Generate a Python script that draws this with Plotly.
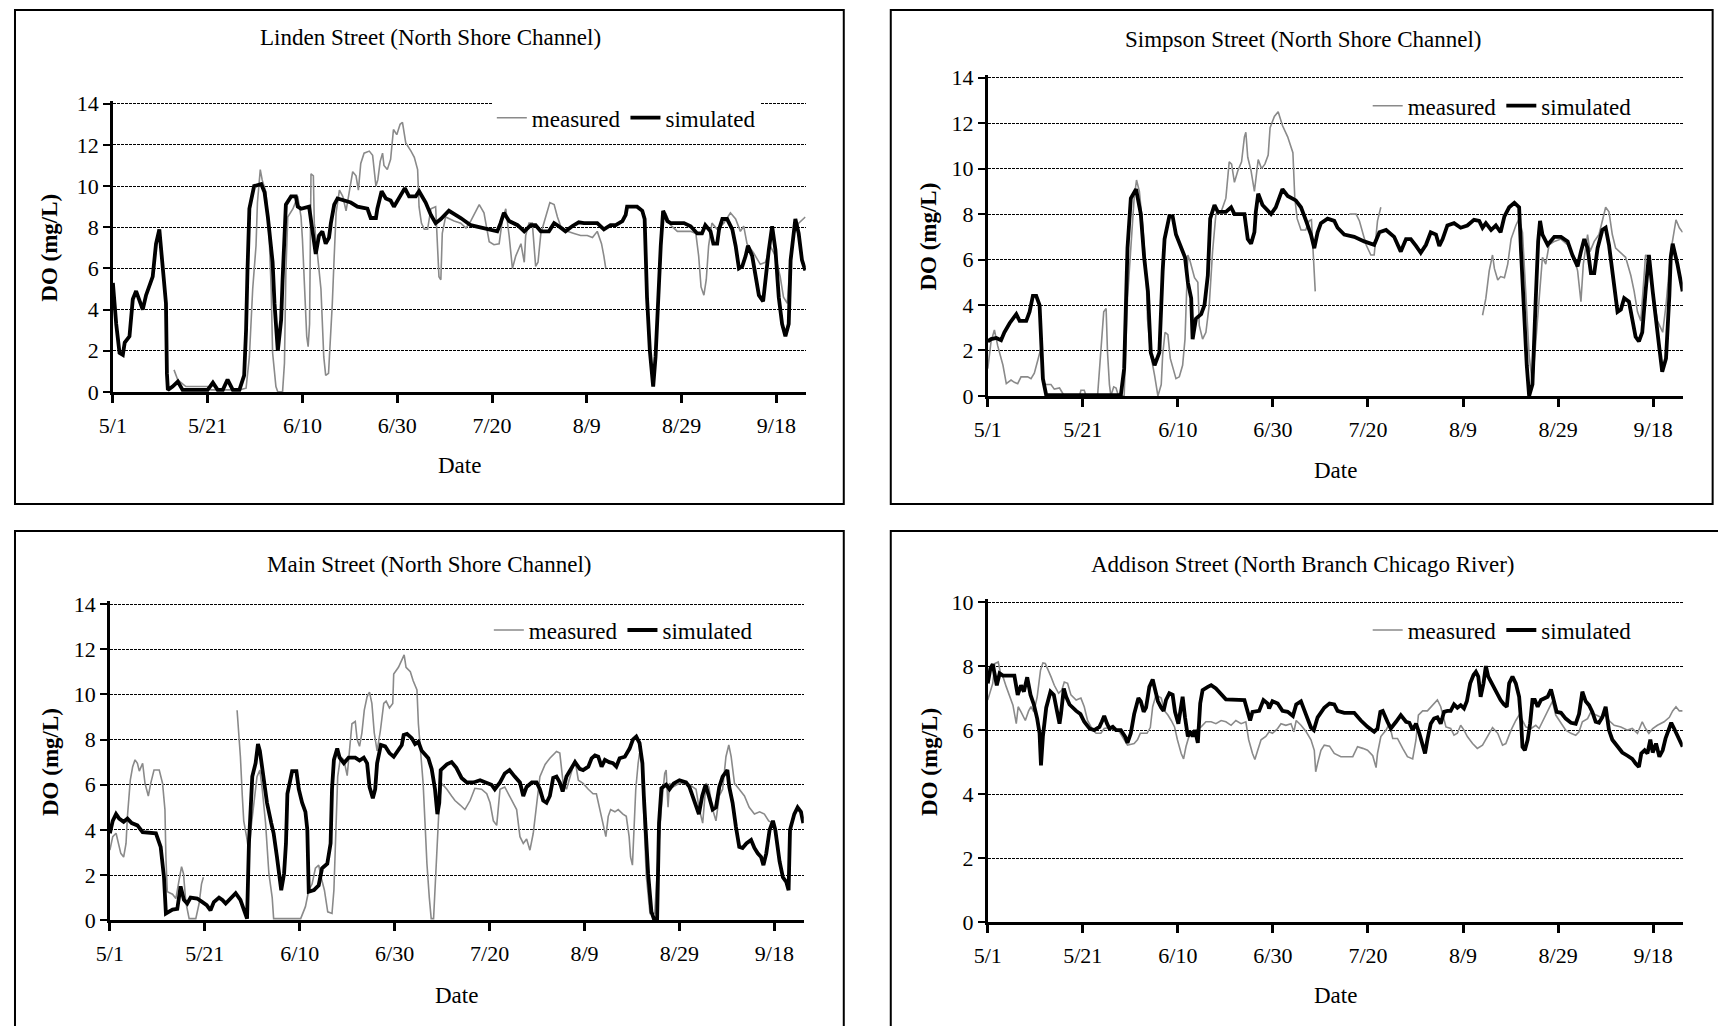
import plotly.graph_objects as go

W, H = 1718, 1026
FONT = "Liberation Serif, Times New Roman, serif"

# x axis: days since May 1
tick_days = [0, 20, 40, 60, 80, 100, 120, 140]
tick_labels = ["5/1", "5/21", "6/10", "6/30", "7/20", "8/9", "8/29", "9/18"]

# ---------------- Linden Street ----------------
linden_sim_day = [
    0, 0.7, 1.4, 2.1, 2.5, 3.5, 4.2, 4.9, 6.3, 7.0,
    8.4, 9.1, 9.8, 10.5, 11.2, 11.4, 11.6, 12.6, 13.7, 14.7,
    20.0, 21.1, 22.1, 23.2, 24.2, 25.3, 26.7, 27.7, 28.1, 28.4,
    28.8, 29.8, 31.3, 32.0, 32.7, 33.7, 34.1, 34.8, 35.5, 35.8,
    36.2, 36.5, 37.6, 38.6, 39.0, 39.7, 41.4, 42.1, 42.8, 43.5,
    44.2, 44.9, 45.6, 46.0, 46.7, 47.4, 49.2, 50.2, 51.6, 53.7,
    54.4, 55.5, 55.8, 56.7, 57.6, 58.6, 59.3, 60.4, 61.6, 62.5,
    63.9, 64.6, 66.0, 67.1, 68.1, 69.2, 70.9, 72.3, 73.4, 75.5,
    78.3, 81.1, 81.8, 82.5, 83.6, 85.4, 86.8, 88.2, 89.2, 90.3,
    92.0, 93.1, 94.1, 95.5, 96.9, 98.3, 99.4, 102.2, 103.6, 105.0,
    106.1, 107.5, 108.2, 108.5, 110.6, 111.7, 112.2, 112.4, 112.7, 113.3,
    114.0, 114.5, 115.0, 115.6, 116.1, 117.0, 117.7, 120.5, 121.9, 123.3,
    124.3, 125.0, 126.1, 126.7, 127.5, 127.9, 128.6, 129.6, 130.7, 131.4,
    132.1, 132.8, 133.5, 134.0, 134.9, 135.6, 136.3, 137.2, 137.7, 138.4,
    139.1, 139.8, 140.5, 141.2, 141.9, 142.6, 143.0, 143.7, 144.0, 144.7,
    145.4, 146.1,
]
linden_sim_do = [
    5.3, 3.3, 1.9, 1.8, 2.4, 2.7, 4.5, 4.9, 4.0, 4.7,
    5.6, 7.2, 7.9, 6.3, 4.3, 0.9, 0.1, 0.26, 0.5, 0.1,
    0.1, 0.45, 0.1, 0.1, 0.6, 0.1, 0.1, 0.8, 3.0, 5.9,
    8.9, 10.0, 10.1, 9.7, 8.5, 6.3, 4.3, 2.0, 3.5, 5.4,
    7.7, 9.1, 9.5, 9.5, 9.0, 8.9, 9.0, 7.9, 6.7, 7.6,
    7.8, 7.2, 7.5, 8.2, 9.1, 9.4, 9.3, 9.2, 9.0, 8.9,
    8.45, 8.45, 8.9, 9.75, 9.4, 9.3, 9.0, 9.4, 9.9, 9.5,
    9.5, 9.75, 9.2, 8.6, 8.2, 8.4, 8.8, 8.6, 8.45, 8.1,
    7.96, 7.8, 8.2, 8.7, 8.3, 8.1, 7.8, 8.1, 8.1, 7.8,
    7.8, 8.2, 8.05, 7.8, 8.05, 8.24, 8.2, 8.2, 7.9, 8.1,
    8.1, 8.3, 8.6, 9.0, 9.0, 8.8, 8.4, 6.6, 4.6, 2.0,
    0.26, 1.7, 4.6, 7.1, 8.8, 8.3, 8.2, 8.2, 8.05, 7.7,
    7.7, 8.1, 7.8, 7.2, 7.2, 7.9, 8.4, 8.4, 7.9, 7.1,
    6.0, 6.1, 6.6, 7.1, 6.6, 5.6, 4.7, 4.4, 5.6, 6.9,
    8.05, 6.9, 4.6, 3.3, 2.7, 3.3, 6.4, 7.9, 8.4, 7.7,
    6.4, 5.9,
]
linden_meas_day = [
    12.9, 13.7, 15.4, 20.0, 20.7, 26.7, 28.1, 28.8, 29.5, 30.2,
    30.5, 31.1, 31.5, 32.3, 33.0, 33.4, 33.7, 34.4, 34.8, 35.8,
    36.2, 36.5, 36.9, 38.0, 39.0, 39.7, 40.0, 40.5, 40.9, 41.2,
    41.5, 41.8, 42.3, 42.5, 43.9, 44.5, 44.9, 45.5, 45.9, 46.3,
    46.7, 47.1, 47.8, 48.5, 49.2, 49.9, 50.6, 51.3, 51.8, 52.3,
    53.0, 54.1, 54.8, 55.5, 55.9, 56.4, 56.9, 57.2, 57.9, 58.6,
    59.2, 59.9, 60.6, 61.1, 61.8, 62.9, 63.6, 64.3, 64.6, 65.1,
    65.7, 66.4, 67.1, 68.1, 68.5, 68.8, 69.2, 69.5, 70.2, 72.0,
    73.4, 74.5, 75.5, 77.3, 78.3, 79.4, 80.4, 81.5, 82.2, 82.9,
    83.6, 84.3, 85.0, 86.1, 86.8, 87.1, 87.8, 88.5, 89.2, 89.7,
    90.3, 91.3, 92.2, 93.1, 93.8, 94.5, 95.9, 97.3, 98.7, 100.1,
    101.2, 102.2, 103.1, 103.6, 104.0, 110.0, 116.6, 117.7, 119.1, 121.9,
    123.0, 123.6, 124.1, 124.7, 125.2, 125.7, 126.4, 127.5, 128.9, 130.3,
    131.4, 132.4, 133.1, 133.8, 135.2, 136.6, 137.7, 138.7, 139.8, 140.8,
    141.5, 142.3, 143.0, 143.7, 144.7, 146.1,
]
linden_meas_do = [
    1.07, 0.58, 0.26, 0.26, 0.1, 0.1, 0.18, 1.7, 5.0, 7.1,
    9.2, 10.8, 10.3, 9.7, 7.4, 5.0, 1.9, 0.26, 0.0, 0.0,
    1.4, 5.8, 8.5, 8.9, 9.5, 8.5, 7.4, 5.0, 2.7, 2.2,
    3.3, 10.6, 10.5, 8.2, 5.0, 1.7, 0.8, 0.9, 2.4, 4.3,
    6.6, 8.7, 9.8, 9.5, 8.8, 9.7, 10.7, 10.5, 9.8, 11.1,
    11.6, 11.7, 11.5, 10.0, 10.3, 11.2, 11.6, 11.0, 10.8, 11.3,
    12.75, 12.5, 13.0, 13.1, 12.1, 11.7, 11.4, 10.8, 9.0, 8.2,
    7.9, 7.9, 8.9, 9.0, 6.9, 5.6, 5.45, 7.7, 8.5, 8.3,
    8.2, 7.96, 8.3, 9.1, 8.7, 7.3, 7.15, 7.2, 8.4, 8.9,
    7.6, 6.0, 6.6, 7.2, 6.3, 7.6, 8.2, 8.2, 6.1, 6.3,
    7.7, 8.5, 9.2, 9.1, 8.5, 8.05, 7.8, 7.7, 7.6, 7.6,
    7.5, 7.8, 7.2, 6.6, 6.0, None, 8.7, 8.1, 7.8, 7.8,
    7.7, 6.6, 5.1, 4.7, 5.45, 7.1, 8.2, 7.9, 8.2, 8.7,
    8.4, 7.8, 8.05, 7.2, 6.75, 6.2, 6.3, 7.1, 6.6, 5.6,
    4.6, 4.3, 6.6, 7.7, 8.2, 8.5,
]

# ---------------- Simpson Street ----------------
simpson_sim_day = [
    0, 0.7, 1.8, 2.8, 3.5, 4.6, 6.0, 6.7, 8.1, 8.8,
    9.5, 10.2, 10.9, 11.2, 11.6, 12.3, 28.0, 28.7, 29.1, 29.4,
    30.1, 31.2, 32.2, 32.9, 33.7, 34.3, 35.1, 36.1, 36.8, 37.2,
    38.2, 38.9, 39.6, 40.7, 41.5, 42.1, 42.8, 43.1, 43.8, 44.9,
    45.6, 46.3, 46.8, 47.7, 48.4, 50.1, 51.2, 51.9, 54.0, 54.7,
    55.4, 56.1, 56.4, 56.9, 57.8, 59.6, 60.6, 62.0, 63.1, 64.8,
    65.9, 66.9, 68.0, 68.7, 69.4, 70.1, 71.5, 72.9, 73.6, 75.0,
    77.1, 79.2, 81.3, 82.4, 83.8, 85.5, 86.9, 88.0, 89.0, 90.1,
    91.1, 92.2, 93.2, 94.3, 95.0, 95.7, 96.7, 98.1, 99.5, 100.9,
    102.3, 103.4, 104.1, 104.8, 105.9, 106.9, 107.9, 108.7, 109.7, 110.8,
    111.8, 112.2, 112.9, 113.4, 113.9, 114.6, 115.3, 115.8, 116.2, 116.7,
    117.8, 119.2, 120.6, 122.0, 123.0, 124.1, 124.8, 125.5, 126.2, 126.9,
    127.6, 128.3, 129.3, 130.0, 130.7, 131.4, 132.5, 133.2, 133.9, 134.9,
    135.6, 136.3, 137.0, 137.7, 138.4, 139.1, 139.9, 140.5, 141.3, 141.9,
    142.7, 143.4, 143.7, 144.1, 145.1, 146.2,
]
simpson_sim_do = [
    2.4, 2.5, 2.55, 2.45, 2.8, 3.2, 3.6, 3.3, 3.3, 3.7,
    4.4, 4.4, 4.0, 2.8, 0.76, 0.03, 0.03, 1.2, 4.9, 6.5,
    8.7, 9.1, 8.0, 6.1, 4.6, 1.9, 1.35, 1.9, 5.5, 6.9,
    7.9, 7.9, 7.1, 6.5, 6.1, 5.0, 4.3, 2.5, 3.4, 3.6,
    4.0, 5.3, 7.8, 8.4, 8.1, 8.1, 8.3, 8.0, 8.0, 6.9,
    6.7, 7.2, 8.1, 8.9, 8.4, 8.0, 8.3, 9.1, 8.8, 8.6,
    8.3, 7.75, 7.1, 6.5, 7.2, 7.6, 7.8, 7.7, 7.4, 7.1,
    7.0, 6.8, 6.65, 7.2, 7.3, 7.0, 6.35, 6.9, 6.9, 6.6,
    6.3, 6.65, 7.2, 7.1, 6.6, 6.9, 7.5, 7.6, 7.4, 7.5,
    7.75, 7.7, 7.4, 7.6, 7.3, 7.5, 7.2, 7.9, 8.3, 8.5,
    8.3, 6.35, 3.3, 1.35, 0.0, 0.5, 4.3, 6.8, 7.7, 7.1,
    6.65, 7.0, 7.0, 6.8, 6.2, 5.7, 6.35, 6.9, 6.5, 5.4,
    5.4, 6.5, 7.3, 7.4, 6.65, 5.5, 3.7, 3.8, 4.3, 4.15,
    3.3, 2.6, 2.4, 2.8, 4.6, 6.2, 4.6, 3.4, 2.1, 1.06,
    1.65, 4.4, 6.1, 6.7, 5.8, 4.6,
]
simpson_meas_day = [
    0, 0.7, 1.4, 2.1, 3.2, 3.9, 4.9, 5.6, 6.3, 7.0,
    8.4, 9.1, 9.8, 10.5, 10.9, 11.2, 11.6, 12.3, 13.3, 14.0,
    15.1, 16.1, 19.3, 19.6, 20.3, 20.7, 23.1, 23.8, 24.4, 24.9,
    25.2, 25.6, 25.9, 26.5, 27.0, 27.5, 28.7, 29.4, 30.1, 30.8,
    31.3, 31.9, 32.6, 33.3, 33.6, 34.3, 35.1, 35.8, 36.5, 36.8,
    37.3, 37.9, 38.4, 39.1, 39.6, 40.3, 41.0, 41.5, 42.1, 42.6,
    43.5, 44.2, 44.5, 45.2, 45.9, 46.6, 47.3, 48.0, 49.1, 50.1,
    50.8, 51.3, 51.9, 52.6, 53.4, 54.0, 54.3, 54.7, 55.4, 56.1,
    56.9, 57.6, 58.3, 59.0, 59.4, 60.3, 61.1, 62.0, 63.1, 64.2,
    64.6, 65.1, 65.9, 66.9, 67.6, 68.1, 68.5, 68.9, 72.0, 76.1,
    77.5, 78.2, 78.9, 79.6, 80.6, 81.3, 82.0, 82.7, 94.0, 104.1,
    104.8, 105.5, 106.2, 106.6, 107.3, 107.9, 108.7, 109.4, 110.1, 111.1,
    111.8, 112.5, 113.2, 113.9, 114.6, 115.3, 116.0, 116.7, 117.4, 118.1,
    119.2, 120.6, 122.0, 123.4, 124.1, 124.8, 125.3, 126.2, 126.7, 127.6,
    128.6, 129.5, 130.0, 130.7, 131.4, 132.1, 133.2, 134.2, 135.3, 136.0,
    136.7, 137.4, 138.4, 139.1, 139.9, 140.9, 142.0, 142.7, 143.7, 144.8,
    145.5, 146.2,
]
simpson_meas_do = [
    1.2, 2.4, 2.9, 2.2, 1.35, 0.54, 0.7, 0.6, 0.54, 0.84,
    0.84, 0.76, 1.0, 1.5, 1.9, 2.1, 0.6, 0.5, 0.5, 0.3,
    0.35, 0.0, 0.0, 0.25, 0.25, 0.0, 0.0, 1.9, 3.7, 3.85,
    1.9, 0.5, 0.0, 0.4, 0.35, 0.0, 0.0, 4.3, 6.35, 8.7,
    9.5, 9.0, 7.5, 5.5, 3.4, 1.8, 0.9, 0.0, 0.5, 1.8,
    2.8, 2.7, 1.65, 1.06, 0.76, 0.84, 1.35, 2.5, 6.2, 5.9,
    5.2, 5.0, 3.1, 2.5, 2.8, 4.0, 6.35, 8.0, 8.1, 8.7,
    10.3, 10.2, 9.4, 9.9, 10.3, 11.4, 11.6, 10.5, 9.9, 9.0,
    10.4, 10.0, 10.2, 10.6, 11.8, 12.3, 12.5, 11.9, 11.4, 10.7,
    8.7, 7.8, 7.3, 7.3, 7.7, 7.75, 6.35, 4.6, None, 8.0,
    8.0, 7.7, 7.2, 6.65, 6.2, 6.2, 7.7, 8.3, None, 3.55,
    4.3, 5.5, 6.2, 5.6, 5.1, 5.25, 5.2, 5.8, 6.9, 7.5,
    7.8, 7.2, 4.3, 1.8, 0.5, 2.5, 4.3, 6.1, 5.8, 6.65,
    6.8, 6.9, 6.65, 6.1, 5.5, 4.15, 5.8, 7.1, 6.35, 6.8,
    7.1, 7.8, 8.3, 8.1, 7.1, 6.5, 6.3, 6.1, 5.3, 4.6,
    3.7, 3.3, 6.2, 6.1, 4.6, 3.3, 2.8, 4.0, 6.35, 7.75,
    7.4, 7.2,
]

# ---------------- Main Street ----------------
main_sim_day = [
    0, 0.6, 1.3, 1.96, 2.9, 3.7, 4.6, 5.8, 6.9, 7.9,
    9.7, 10.7, 11.4, 11.8, 12.5, 13.2, 14.2, 14.9, 15.6, 16.3,
    17.0, 18.4, 19.5, 20.4, 21.2, 21.9, 23.0, 23.7, 24.4, 25.4,
    26.5, 27.5, 28.2, 28.9, 29.3, 30.0, 30.7, 31.2, 31.6, 32.1,
    32.6, 33.1, 34.0, 34.5, 35.2, 35.7, 36.1, 36.7, 37.1, 37.4,
    37.9, 38.4, 39.3, 39.8, 40.5, 41.2, 41.6, 41.9, 43.0, 44.0,
    44.7, 45.8, 46.5, 46.8, 47.2, 47.9, 48.4, 49.3, 50.3, 51.7,
    52.6, 53.5, 54.2, 54.7, 55.4, 55.9, 56.3, 57.1, 58.0, 58.9,
    59.8, 60.8, 61.5, 61.9, 62.6, 63.6, 64.3, 65.0, 65.7, 67.1,
    67.8, 68.5, 69.0, 69.4, 69.7, 71.0, 72.0, 73.0, 74.1, 75.2,
    76.6, 78.0, 79.4, 80.4, 81.1, 82.2, 83.2, 84.2, 85.3, 86.4,
    87.1, 87.8, 88.9, 89.9, 90.6, 91.3, 92.0, 92.7, 93.4, 94.1,
    94.8, 95.4, 96.2, 97.3, 98.0, 99.0, 99.7, 100.8, 101.5, 102.2,
    102.9, 103.6, 104.3, 105.2, 106.0, 106.7, 107.4, 108.5, 109.5, 110.2,
    110.9, 111.6, 112.2, 112.5, 112.9, 113.4, 114.1, 114.6, 115.3, 115.7,
    116.2, 117.2, 117.9, 118.8, 120.0, 121.4, 122.1, 123.2, 124.1, 124.8,
    125.5, 126.2, 127.0, 127.7, 128.4, 129.1, 130.1, 130.5, 131.2, 131.9,
    132.6, 133.3, 134.1, 135.1, 135.8, 136.5, 137.2, 137.7, 138.3, 139.0,
    139.7, 140.2, 141.1, 141.8, 142.5, 143.0, 143.3, 144.2, 144.9, 145.6,
    146.1,
]
main_sim_do = [
    3.85, 4.4, 4.7, 4.5, 4.36, 4.5, 4.3, 4.2, 3.9, 3.87,
    3.85, 3.25, 1.9, 0.3, 0.37, 0.47, 0.5, 1.5, 0.9, 0.74,
    1.0, 0.96, 0.8, 0.67, 0.44, 0.8, 1.0, 0.9, 0.74, 0.96,
    1.2, 0.9, 0.44, 0.07, 3.4, 6.36, 6.95, 7.8, 7.5, 6.65,
    6.1, 5.2, 4.3, 3.85, 2.8, 1.8, 1.33, 2.07, 3.4, 5.6,
    6.06, 6.6, 6.6, 5.8, 5.2, 4.8, 4.0, 1.26, 1.33, 1.55,
    2.3, 2.5, 3.4, 5.8, 7.1, 7.6, 7.2, 6.95, 7.2, 7.2,
    7.07, 7.2, 6.95, 5.9, 5.4, 5.8, 6.95, 7.76, 7.7, 7.4,
    7.24, 7.54, 7.76, 8.2, 8.25, 8.06, 7.8, 7.9, 7.5, 7.17,
    6.7, 5.8, 4.7, 5.2, 6.65, 6.9, 7.0, 6.75, 6.3, 6.1,
    6.1, 6.2, 6.1, 6.0, 5.8, 6.1, 6.5, 6.65, 6.36, 6.1,
    5.5, 5.9, 6.1, 6.1, 5.8, 5.3, 5.2, 5.5, 6.3, 6.36,
    6.1, 5.7, 6.36, 6.8, 7.0, 6.7, 6.65, 6.8, 7.17, 7.3,
    7.24, 6.8, 7.1, 7.0, 6.95, 6.8, 7.17, 7.24, 7.6, 8.0,
    8.13, 7.84, 6.95, 5.5, 4.0, 2.07, 0.37, 0.07, 0.07, 4.3,
    5.84, 6.0, 5.8, 6.06, 6.2, 6.1, 5.9, 5.2, 4.7, 5.5,
    6.0, 5.5, 4.9, 5.0, 5.9, 6.36, 6.65, 5.9, 5.2, 4.14,
    3.25, 3.2, 3.4, 3.55, 3.2, 2.96, 2.8, 2.44, 2.96, 4.0,
    4.4, 4.0, 2.6, 1.9, 1.7, 1.33, 4.0, 4.7, 5.0, 4.8,
    4.3,
]
main_meas_day = [
    0, 0.6, 1.3, 1.75, 2.3, 2.9, 3.4, 3.7, 4.3, 4.8,
    5.3, 5.8, 6.2, 6.9, 7.4, 8.1, 8.6, 9.3, 10.4, 11.1,
    11.6, 11.8, 12.1, 13.2, 13.9, 14.6, 15.1, 15.5, 16.0, 16.7,
    18.1, 18.8, 19.3, 19.7, 23.0, 26.8, 27.5, 27.9, 28.2, 28.8,
    29.3, 29.8, 30.3, 31.0, 31.6, 32.1, 32.8, 33.5, 34.2, 34.5,
    40.2, 41.2, 41.9, 42.6, 43.3, 44.0, 44.5, 45.2, 45.9, 46.8,
    47.2, 47.6, 48.0, 48.6, 49.3, 50.0, 50.5, 51.0, 51.7, 52.1,
    52.6, 53.1, 53.6, 54.2, 54.7, 55.2, 55.7, 56.3, 57.0, 57.7,
    58.2, 58.9, 59.6, 59.8, 60.8, 61.5, 62.0, 62.4, 63.3, 63.9,
    64.7, 65.0, 65.4, 66.0, 66.4, 66.8, 67.3, 67.7, 68.2, 68.5,
    69.0, 69.4, 69.9, 71.0, 72.0, 72.7, 73.8, 74.8, 75.9, 76.9,
    78.3, 79.4, 80.1, 80.8, 81.5, 82.2, 83.2, 83.9, 85.0, 85.7,
    86.4, 87.1, 87.8, 88.5, 89.2, 89.9, 90.6, 91.7, 92.7, 94.1,
    94.8, 95.5, 96.2, 97.3, 98.0, 98.7, 99.7, 100.8, 101.8, 102.5,
    103.2, 103.9, 104.5, 105.0, 105.5, 106.4, 107.1, 108.1, 108.8, 109.4,
    109.7, 110.1, 110.4, 110.8, 111.3, 111.6, 112.0, 112.3, 113.0, 113.8,
    114.8, 115.5, 116.2, 116.9, 117.2, 117.6, 117.9, 118.6, 120.0, 121.4,
    122.8, 123.5, 124.2, 124.9, 125.6, 126.2, 127.0, 127.7, 128.4, 129.1,
    129.8, 130.4, 130.9, 131.6, 132.6, 133.7, 134.7, 135.8, 136.9, 137.9,
    138.8, 139.7, 140.4,
]
main_meas_do = [
    3.1, 3.7, 3.85, 3.4, 2.96, 2.8, 3.4, 4.6, 6.2, 6.8,
    7.1, 6.95, 6.6, 6.95, 6.06, 5.5, 6.06, 6.65, 6.65, 6.06,
    4.9, 2.8, 1.26, 1.15, 0.96, 1.8, 2.37, 2.07, 0.8, 0.07,
    0.07, 0.74, 1.6, 1.9, None, 9.3, 7.24, 5.5, 4.4, 3.7,
    3.0, 4.2, 5.2, 6.36, 6.65, 5.8, 4.3, 2.07, 1.0, 0.07,
    0.07, 0.6, 1.33, 1.6, 2.3, 2.44, 1.9, 1.33, 0.37, 0.3,
    1.33, 4.3, 6.36, 7.24, 7.1, 6.4, 7.7, 8.7, 8.8, 8.0,
    7.7, 8.3, 9.3, 9.9, 10.1, 9.6, 8.3, 7.5, 8.4, 9.6,
    9.7, 9.4, 9.6, 10.9, 11.2, 11.5, 11.75, 11.2, 11.0, 10.6,
    10.2, 8.7, 7.5, 6.06, 4.3, 2.5, 1.0, 0.07, 0.07, 1.33,
    3.4, 5.2, 6.06, 5.8, 5.5, 5.3, 5.1, 4.9, 5.3, 5.84,
    5.8, 5.6, 5.2, 4.4, 4.2, 5.8, 5.9, 5.6, 5.2, 4.9,
    3.7, 3.4, 3.6, 3.1, 3.85, 5.2, 6.36, 6.9, 7.17, 7.47,
    7.4, 6.06, 5.8, 6.6, 7.1, 6.2, 6.06, 5.8, 5.6, 5.6,
    4.9, 4.14, 3.7, 4.6, 4.9, 4.8, 4.9, 4.7, 4.6, 3.7,
    2.8, 2.44, 4.0, 5.8, 6.95, 7.4, 7.24, 5.8, 2.0, 0.3,
    0.3, 2.8, 5.0, 6.5, 6.65, 5.0, 6.06, 5.9, 6.06, 6.1,
    5.9, 5.8, 4.9, 4.3, 6.06, 5.9, 4.9, 4.4, 5.5, 5.8,
    7.24, 7.76, 7.24, 6.06, 5.8, 5.5, 5.0, 4.7, 4.8, 4.7,
    4.4, 4.3, 4.0,
]

# ---------------- Addison Street ----------------
addison_sim_day = [
    0, 0.56, 1.05, 1.5, 1.9, 2.5, 3.2, 5.6, 6.3, 7.0,
    7.6, 8.3, 9.0, 9.7, 10.4, 10.9, 11.2, 11.6, 12.3, 13.2,
    13.9, 14.6, 15.1, 15.4, 16.0, 16.5, 17.2, 18.6, 19.5, 20.3,
    21.4, 22.4, 23.5, 24.0, 24.5, 25.1, 25.6, 26.3, 27.0, 28.0,
    28.9, 29.4, 30.1, 30.8, 31.7, 32.2, 32.8, 33.3, 34.0, 34.7,
    35.2, 35.8, 36.5, 37.0, 37.5, 38.2, 38.9, 39.4, 40.1, 40.5,
    41.0, 41.5, 42.1, 42.6, 43.1, 43.6, 44.2, 44.7, 45.2, 46.3,
    47.0, 48.0, 49.1, 50.1, 54.0, 54.7, 55.2, 55.7, 57.1, 58.0,
    58.9, 59.2, 59.9, 61.0, 62.0, 63.1, 64.2, 64.9, 65.9, 67.0,
    68.0, 68.6, 69.4, 70.8, 71.9, 72.9, 73.6, 75.0, 77.1, 78.5,
    79.9, 81.3, 82.0, 82.6, 83.1, 84.1, 84.8, 85.9, 86.9, 88.0,
    88.7, 89.4, 90.1, 90.8, 91.5, 92.0, 92.5, 93.2, 93.9, 94.6,
    95.3, 96.0, 96.7, 97.4, 98.1, 98.8, 99.5, 100.2, 100.8, 101.5,
    102.2, 102.7, 103.2, 103.7, 104.3, 104.8, 105.3, 106.2, 107.3, 107.9,
    108.6, 109.2, 109.7, 110.4, 111.1, 111.8, 112.2, 112.5, 113.0, 113.6,
    114.1, 114.6, 115.1, 115.7, 116.4, 117.1, 117.8, 118.5, 119.0, 119.7,
    120.6, 121.6, 122.7, 123.7, 124.4, 125.1, 125.8, 126.5, 127.2, 127.9,
    128.6, 129.3, 130.0, 130.7, 131.4, 132.5, 133.5, 134.6, 135.6, 136.3,
    137.0, 137.5, 138.2, 138.8, 139.4, 139.9, 140.6, 141.3, 142.0, 142.6,
    143.3, 143.8, 144.4, 145.1, 146.2,
]
addison_sim_do = [
    7.46, 7.93, 8.06, 7.77, 7.4, 7.77, 7.7, 7.7, 7.1, 7.4,
    7.2, 7.65, 7.1, 6.8, 6.36, 5.9, 4.9, 5.8, 6.7, 7.2,
    7.1, 6.57, 6.2, 6.5, 7.3, 7.04, 6.8, 6.6, 6.5, 6.26,
    6.05, 6.0, 6.1, 6.26, 6.44, 6.2, 6.05, 6.1, 6.0, 6.0,
    5.8, 5.6, 5.9, 6.5, 7.0, 6.9, 6.57, 6.7, 7.35, 7.58,
    7.25, 6.9, 6.7, 6.6, 6.94, 7.15, 7.1, 6.57, 6.2, 6.57,
    7.04, 6.4, 5.8, 5.95, 5.8, 6.0, 5.6, 6.83, 7.25, 7.35,
    7.4, 7.3, 7.1, 6.96, 6.94, 6.57, 6.3, 6.57, 6.6, 6.94,
    6.83, 6.68, 6.9, 6.83, 6.6, 6.57, 6.44, 6.8, 6.9, 6.47,
    6.08, 6.0, 6.4, 6.7, 6.83, 6.8, 6.6, 6.54, 6.54, 6.3,
    6.1, 5.95, 6.05, 6.57, 6.6, 6.26, 6.05, 6.26, 6.47, 6.26,
    6.23, 6.0, 6.2, 5.9, 5.58, 5.27, 5.7, 6.2, 6.36, 6.4,
    6.2, 6.57, 6.6, 6.6, 6.8, 6.7, 6.78, 6.68, 6.9, 7.46,
    7.72, 7.82, 7.67, 7.04, 7.46, 8.0, 7.67, 7.4, 7.1, 6.94,
    6.8, 6.73, 7.46, 7.67, 7.46, 7.04, 6.3, 5.48, 5.37, 5.7,
    6.2, 6.94, 6.94, 6.73, 6.94, 7.0, 7.04, 7.27, 6.94, 6.57,
    6.54, 6.36, 6.23, 6.2, 6.5, 7.2, 6.9, 6.78, 6.57, 6.26,
    6.23, 6.4, 6.73, 6.0, 5.7, 5.48, 5.3, 5.2, 5.1, 4.96,
    4.85, 5.27, 5.37, 5.27, 5.7, 5.3, 5.58, 5.17, 5.37, 5.74,
    6.05, 6.23, 6.05, 5.8, 5.48,
]
addison_meas_day = [
    0, 0.56, 1.05, 1.5, 2.2, 2.7, 3.2, 3.9, 4.6, 5.3,
    6.0, 6.4, 7.0, 7.9, 8.6, 9.1, 9.7, 10.4, 11.1, 11.6,
    12.1, 12.6, 13.3, 14.0, 14.9, 15.6, 16.1, 16.8, 17.5, 18.6,
    19.6, 20.3, 21.0, 22.1, 22.8, 23.8, 24.5, 25.6, 26.6, 27.7,
    28.7, 29.4, 30.8, 31.5, 32.1, 33.5, 34.2, 34.7, 35.4, 36.5,
    37.2, 37.9, 38.6, 39.3, 39.9, 40.7, 41.2, 41.7, 42.4, 43.1,
    43.8, 44.9, 45.9, 47.0, 48.0, 49.1, 50.1, 51.2, 52.2, 53.3,
    54.3, 54.9, 55.7, 56.2, 56.8, 57.5, 58.5, 59.2, 59.9, 61.0,
    61.7, 62.7, 63.8, 64.4, 64.9, 65.9, 67.0, 68.0, 68.7, 69.0,
    69.4, 70.1, 70.8, 71.9, 72.9, 73.8, 74.3, 76.8, 77.8, 78.9,
    79.9, 81.0, 81.7, 82.0, 82.7, 83.8, 84.5, 85.2, 86.2, 87.3,
    88.3, 89.4, 90.1, 90.6, 91.5, 92.5, 93.6, 94.6, 95.3, 96.4,
    97.4, 98.1, 98.8, 99.5, 100.2, 100.9, 102.0, 103.0, 104.1, 105.1,
    106.2, 107.3, 108.3, 109.0, 110.1, 111.1, 111.8, 112.5, 113.2, 114.3,
    115.3, 116.0, 117.1, 118.1, 118.8, 119.5, 120.6, 121.6, 122.7, 123.7,
    124.4, 125.1, 126.2, 126.9, 128.0, 129.0, 130.0, 130.7, 131.8, 133.2,
    134.6, 135.6, 136.7, 137.7, 138.4, 139.1, 139.9, 140.9, 142.3, 143.4,
    144.1, 144.8, 145.5, 146.2,
]
addison_meas_do = [
    6.94, 7.25, 7.46, 8.08, 8.13, 7.77, 7.67, 7.35, 7.04, 6.78,
    6.2, 6.73, 6.57, 6.3, 6.6, 6.73, 6.57, 7.04, 7.87, 8.1,
    8.08, 7.93, 7.67, 7.4, 7.15, 7.25, 7.5, 7.46, 7.1, 6.94,
    7.0, 6.73, 6.3, 6.0, 5.9, 5.9, 6.05, 6.08, 6.0, 5.95,
    5.7, 5.53, 5.58, 5.7, 5.9, 5.9, 6.08, 6.73, 7.1, 7.0,
    6.6, 6.47, 6.3, 6.1, 5.7, 5.27, 5.1, 5.48, 5.84, 5.95,
    6.0, 6.1, 6.26, 6.26, 6.2, 6.3, 6.26, 6.15, 6.3, 6.2,
    6.26, 5.7, 5.27, 5.08, 5.37, 5.7, 5.8, 5.95, 5.9, 6.05,
    6.2, 6.15, 6.2, 5.95, 6.3, 6.15, 5.95, 5.7, 5.37, 4.7,
    4.96, 5.37, 5.53, 5.5, 5.27, 5.2, 5.17, 5.17, 5.48, 5.43,
    5.37, 5.2, 4.83, 5.27, 5.8, 6.0, 6.2, 5.74, 5.74, 5.43,
    5.17, 5.1, 5.7, 6.47, 6.6, 6.6, 6.78, 6.94, 6.73, 6.1,
    6.05, 5.84, 5.9, 6.15, 6.0, 5.8, 5.58, 5.43, 5.53, 5.8,
    6.08, 5.9, 5.53, 5.58, 6.0, 6.3, 6.47, 6.3, 6.1, 6.05,
    6.15, 6.05, 6.4, 6.73, 6.9, 6.47, 6.2, 6.0, 5.9, 5.84,
    5.95, 6.26, 6.36, 6.57, 6.47, 6.4, 6.47, 6.3, 6.15, 6.1,
    6.0, 6.05, 5.9, 6.26, 6.05, 5.9, 6.05, 6.15, 6.26, 6.4,
    6.6, 6.73, 6.6, 6.6,
]

titles = [
    "Linden Street (North Shore Channel)",
    "Simpson Street (North Shore Channel)",
    "Main Street (North Shore Channel)",
    "Addison Street (North Branch Chicago River)",
]

series = [
    (linden_meas_day, linden_meas_do, linden_sim_day, linden_sim_do),
    (simpson_meas_day, simpson_meas_do, simpson_sim_day, simpson_sim_do),
    (main_meas_day, main_meas_do, main_sim_day, main_sim_do),
    (addison_meas_day, addison_meas_do, addison_sim_day, addison_sim_do),
]
for md, mv, sd, sv in series:
    assert len(md) == len(mv) and len(sd) == len(sv)


# the photographed page comes out slightly shifted/scaled; map wanted
# screen pixels to figure pixels
def px(x):
    return max(1.0, (x - 13.1) / 0.992)


def py(y):
    return max(1.0, (y - 9.3) / 0.978)


# panel geometry in target screen pixels
panels = [
    dict(x0=112, x1=805, top=104, bot=392, ymax=14, box=(13, 843, 5, 504),
         title=(430, 38), date_y=466, do_x=49, leg=(491, 118), legbg="white"),
    dict(x0=987, x1=1682, top=78, bot=396, ymax=14, box=(890, 1712, 5, 504),
         title=(1302, 40), date_y=471, do_x=928, leg=(1367, 106),
         legbg="rgba(0,0,0,0)"),
    dict(x0=109, x1=803, top=604, bot=920, ymax=14, box=(13, 843, 531, 1040),
         title=(428, 564), date_y=995, do_x=49, leg=(488, 630),
         legbg="rgba(0,0,0,0)"),
    dict(x0=987, x1=1682, top=602, bot=922, ymax=10, box=(890, 1740, 531, 1040),
         title=(1302, 564), date_y=995, do_x=928, leg=(1367, 630),
         legbg="rgba(0,0,0,0)"),
]

X_END = 146.2
fig = go.Figure()
annotations = []
shapes = []
layout = {}

for i, (p, (md, mv, sd, sv), title) in enumerate(zip(panels, series, titles)):
    n = "" if i == 0 else str(i + 1)
    leg = "legend" if i == 0 else "legend" + str(i + 1)
    xa, ya = "x" + n, "y" + n
    fig.add_trace(go.Scatter(
        x=md, y=mv, mode="lines", name="measured", xaxis=xa, yaxis=ya,
        line=dict(color="#8a8a8a", width=1.6), connectgaps=False, legend=leg,
    ))
    fig.add_trace(go.Scatter(
        x=sd, y=sv, mode="lines", name="simulated", xaxis=xa, yaxis=ya,
        line=dict(color="black", width=3.8), legend=leg,
    ))

    scale = (p["bot"] - p["top"]) / p["ymax"]
    ytop = p["ymax"] * 1.01
    top_px = p["bot"] - ytop * scale
    layout["xaxis" + n] = dict(
        domain=[px(p["x0"]) / W, px(p["x1"]) / W], anchor=ya, range=[0, X_END],
        tickvals=tick_days, ticktext=tick_labels, ticks="outside",
        ticklen=8, tickwidth=2.5, tickcolor="black", showline=True,
        linewidth=2.5, linecolor="black", showgrid=False, zeroline=False,
        ticklabelstandoff=4,
        tickfont=dict(family=FONT, size=22, color="black"),
    )
    layout["yaxis" + n] = dict(
        domain=[1 - py(p["bot"]) / H, 1 - py(top_px) / H], anchor=xa,
        range=[0, ytop], tick0=0, dtick=2, ticks="outside", ticklen=7,
        tickwidth=2, tickcolor="black", showline=True, linewidth=2.5,
        linecolor="black", showgrid=True, gridcolor="black", gridwidth=1,
        griddash="3px,1px", zeroline=False,
        tickfont=dict(family=FONT, size=22, color="black"),
    )
    layout[leg] = dict(
        x=px(p["leg"][0]) / W, y=1 - py(p["leg"][1]) / H, xanchor="left",
        yanchor="middle", orientation="h", bgcolor=p["legbg"],
        font=dict(family=FONT, size=23, color="black"),
        itemwidth=30, tracegroupgap=0,
    )

    bx0, bx1, by0, by1 = p["box"]
    shapes.append(dict(
        type="rect", xref="paper", yref="paper",
        x0=px(bx0) / W, x1=px(bx1) / W,
        y0=1 - py(by1) / H, y1=1 - py(by0) / H,
        line=dict(color="black", width=2), fillcolor="rgba(0,0,0,0)",
    ))
    annotations.append(dict(
        text=title, x=px(p["title"][0]) / W, y=1 - py(p["title"][1]) / H,
        xref="paper", yref="paper", showarrow=False, xanchor="center",
        yanchor="middle", font=dict(family=FONT, size=23, color="black"),
    ))
    annotations.append(dict(
        text="Date", x=px((p["x0"] + p["x1"]) / 2) / W,
        y=1 - py(p["date_y"]) / H,
        xref="paper", yref="paper", showarrow=False, xanchor="center",
        yanchor="middle", font=dict(family=FONT, size=23, color="black"),
    ))
    annotations.append(dict(
        text="<b>DO (mg/L)</b>", x=px(p["do_x"]) / W,
        y=1 - py((p["top"] + p["bot"]) / 2) / H, xref="paper", yref="paper",
        showarrow=False, textangle=-90, xanchor="center", yanchor="middle",
        font=dict(family=FONT, size=23, color="black"),
    ))

fig.update_layout(
    width=W, height=H, margin=dict(l=0, r=0, t=0, b=0),
    paper_bgcolor="white", plot_bgcolor="white",
    annotations=annotations, shapes=shapes, **layout,
)

# remove the page's default body margin so the figure sits at (0, 0)
fig.write_html(
    "out.html",
    config={"displayModeBar": False},
    post_script="document.body.style.margin='0px';",
)
